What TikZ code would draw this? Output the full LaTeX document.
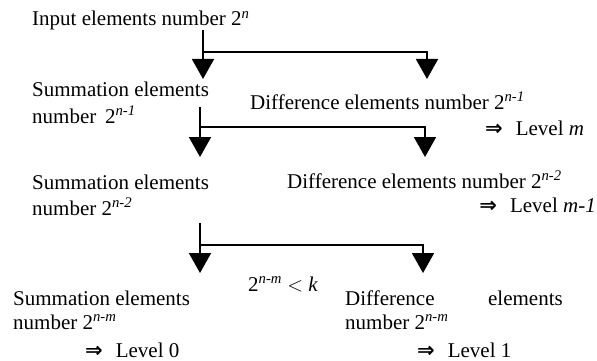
\documentclass[tikz,border=0pt]{standalone}
\usepackage{fontspec}
\setmainfont{Liberation Serif}
\newfontfamily\symfont{DejaVu Sans}
\usetikzlibrary{arrows.meta}
\newcommand{\supit}[1]{\textsuperscript{\itshape #1}}
\newcommand{\impl}{{\symfont\bfseries\fontsize{21}{22}\selectfont ⇒}\hspace{13pt}}
\begin{document}
\begin{tikzpicture}[x=1pt,y=-1pt,
  lbl/.style={anchor=base west,inner sep=0pt,font=\fontsize{21}{24}\selectfont},
  lble/.style={anchor=base east,inner sep=0pt,font=\fontsize{21}{24}\selectfont},
  arr/.style={line width=1.8pt,-{Triangle[width=22pt,length=20pt]}}]
\useasboundingbox (0,0) rectangle (597,361);
% texts
\node[lbl] (inp) at (32,26) {Input elements number 2\supit{n}};
\node[lbl] (s1a) at (32,96) {Summation elements};
\node[lbl] (s1b) at (32,123) {number \,2\supit{n-1}};
\node[lbl] (d1) at (250,109) {Difference elements number 2\supit{n-1}};
\node[lbl] (l1) at (485,135) {\impl Level \textit{m}};
\node[lbl] (s2a) at (32,189) {Summation elements};
\node[lbl] (s2b) at (32,215) {number 2\supit{n-2}};
\node[lbl] (d2) at (287,188) {Difference elements number 2\supit{n-2}};
\node[lble] (l2) at (596,212) {\impl Level \textit{m-1}};
\node[lbl] (cond) at (248,291) {2\supit{n-m} $<$ \textit{k}};
\node[lbl] (s3a) at (13,305) {Summation elements};
\node[lbl] (s3b) at (13,329) {number 2\supit{n-m}};
\node[lbl] (l3) at (85,357) {\impl Level 0};
\node[lbl] (d3a) at (345,305) {Difference};
\node[lble] (d3b) at (563,305) {elements};
\node[lbl] (d3c) at (345,329) {number 2\supit{n-m}};
\node[lbl] (l4) at (417,357) {\impl Level 1};
% fork 1
\coordinate (f1s) at (203,30);
\coordinate (f1j) at (203,52);
\coordinate (f1c) at (427,52);
\coordinate (f1l) at (203,79);
\coordinate (f1r) at (427,79);
\draw[arr] (f1s) -- (f1l);
\draw[arr] (f1j) -- (f1c) -- (f1r);
% fork 2
\coordinate (f2s) at (200,107);
\coordinate (f2j) at (200,127);
\coordinate (f2c) at (425,127);
\coordinate (f2l) at (200,157);
\coordinate (f2r) at (425,157);
\draw[arr] (f2s) -- (f2l);
\draw[arr] (f2j) -- (f2c) -- (f2r);
% fork 3
\coordinate (f3s) at (200,223);
\coordinate (f3j) at (200,245);
\coordinate (f3c) at (423,245);
\coordinate (f3l) at (200,273);
\coordinate (f3r) at (423,273);
\draw[arr] (f3s) -- (f3l);
\draw[arr] (f3j) -- (f3c) -- (f3r);
\end{tikzpicture}
\end{document}
